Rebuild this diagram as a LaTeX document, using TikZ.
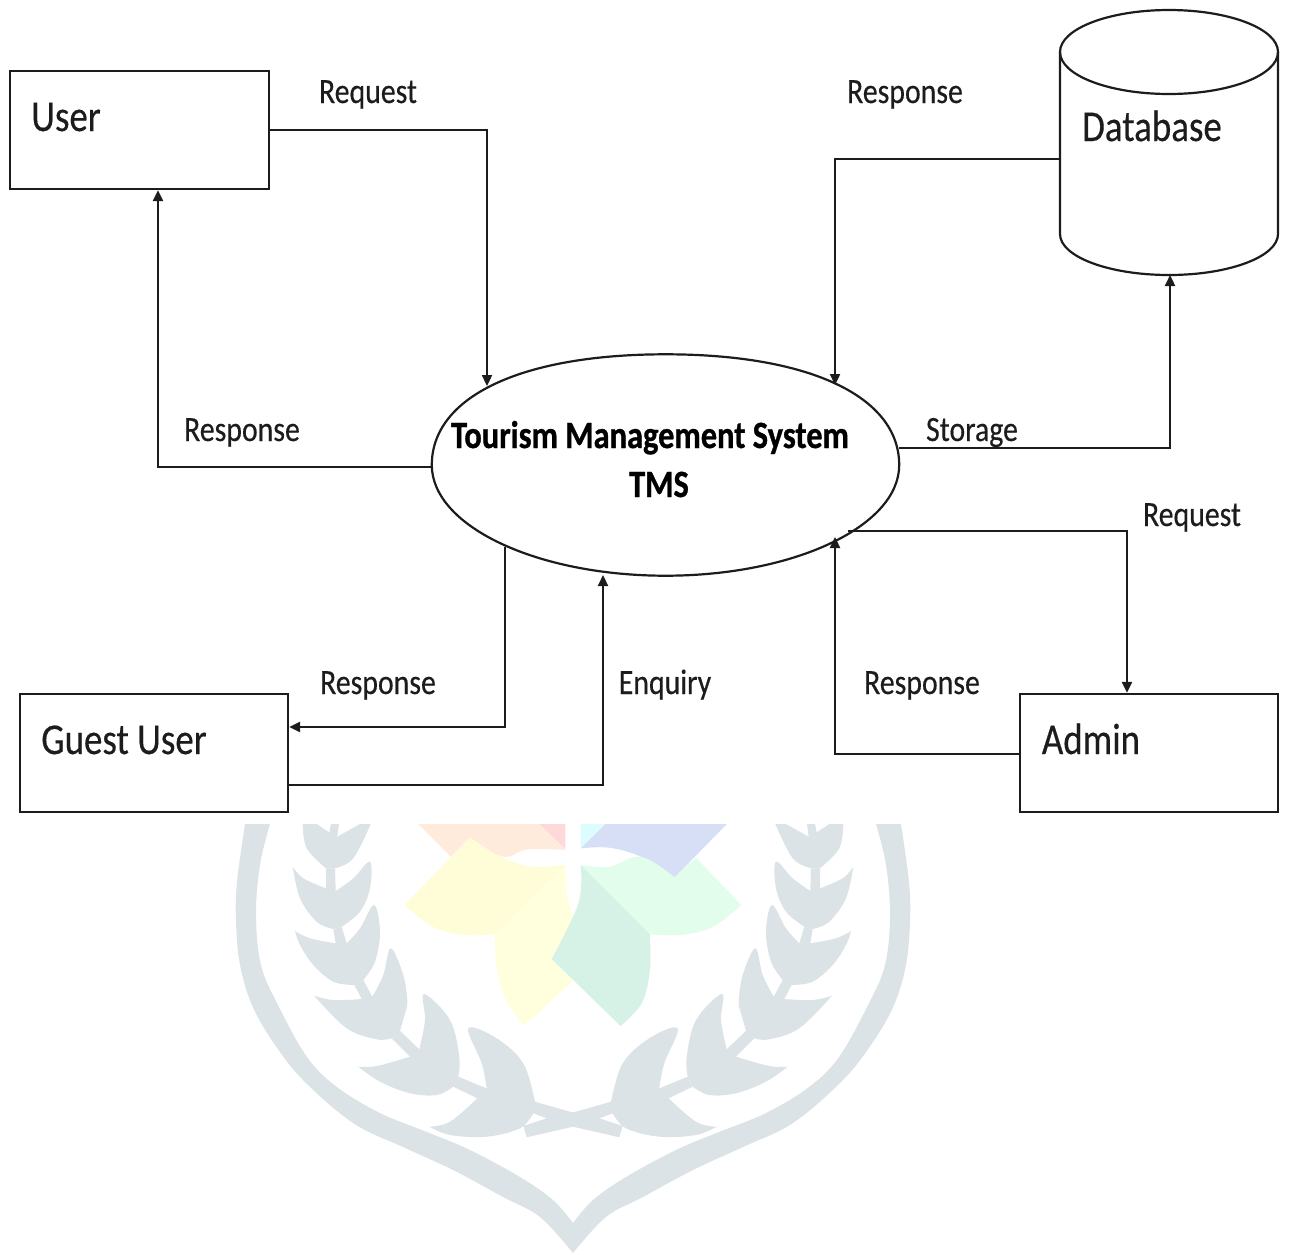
\documentclass[tikz,border=0pt]{standalone}
\usepackage{fontspec}
\setmainfont[FakeStretch=0.84,FakeBold=0.35,BoldFeatures={FakeStretch=0.84,FakeBold=0.8}]{Carlito}
\usetikzlibrary{shapes.geometric,arrows.meta,calc}
\definecolor{ink}{HTML}{1C1C1C}
\definecolor{wreath}{HTML}{DCE3E6}
\definecolor{fOrange}{HTML}{FFEBDB}
\definecolor{fPink}{HTML}{FFD9DA}
\definecolor{fCyan}{HTML}{DDFCFE}
\definecolor{fBlue}{HTML}{D7DFF6}
\definecolor{fYellowA}{HTML}{FFFCD8}
\definecolor{fYellowB}{HTML}{FFFFDE}
\definecolor{fGreenA}{HTML}{E3FDEC}
\definecolor{fGreenB}{HTML}{D6F1E6}
\newcommand{\wreathhalf}{%
 % band
 \fill[wreath] plot[smooth,tension=.6] coordinates {(245,824)(237,882)(236,922)(240,965)(252,1005)(273,1042)(303,1080)(353,1123)(403,1147)(453,1170)(503,1197)(540,1217)(573,1253)}
   -- plot[smooth,tension=.6] coordinates {(573,1223)(553,1200)(520,1177)(470,1150)(427,1132)(380,1113)(337,1087)(307,1057)(278,1005)(261,965)(256,915)(260,865)(270,824)} -- cycle;
 % tier 1
 \fill[wreath] plot[smooth,tension=.6] coordinates {(302.7,824)(306.7,848.3)(326,868.3)} -- (335,868.3) -- plot[smooth,tension=.6] coordinates {(335,868.3)(353.3,858.3)(370.7,824)} -- (360,824) -- (337.3,836.7) -- (339,824) -- (331,824) -- (329.3,832.3) -- (316.7,824) -- cycle;
 % tier 2
 \fill[wreath] plot[smooth,tension=.6] coordinates {(292.7,866.7)(303.3,878.3)(326,888.3)} -- (326,868.3) -- (335,868.3) -- (335.7,891) -- plot[smooth,tension=.6] coordinates {(335.7,891)(353.3,878.3)(370,861.7)(370,888.3)(360,911.7)(341.7,926.7)} -- (333.3,929) -- plot[smooth,tension=.6] coordinates {(333.3,929)(316.7,921.7)(300,898.3)(292.7,866.7)} -- cycle;
 % tier 3
 \fill[wreath] plot[smooth,tension=.6] coordinates {(295,931)(310,938.3)(335.7,943.3)} -- (333.3,929) -- (341.7,926.7) -- (346.7,943.3) -- plot[smooth,tension=.6] coordinates {(346.7,943.3)(360,928.3)(374,905)(380,931.7)(375,961.7)(363.3,980)} -- (354.3,985) -- plot[smooth,tension=.6] coordinates {(354.3,985)(333.3,981.7)(313.3,965)(300,945)(295,931)} -- cycle;
 % tier 4
 \fill[wreath] plot[smooth,tension=.6] coordinates {(314,995.7)(333.3,1000)(361.7,999)} -- (354.3,985) -- (363.3,980) -- (372.3,996.7) -- plot[smooth,tension=.6] coordinates {(372.3,996.7)(383.3,975)(390.7,948.3)(403.3,975)(407.3,1001.7)(405,1013.3)(400,1030.7)} -- (391.7,1038.3) -- plot[smooth,tension=.6] coordinates {(391.7,1038.3)(376.7,1039.3)(346.7,1028.3)(314,995.7)} -- cycle;
 % tier 5
 \fill[wreath] plot[smooth,tension=.6] coordinates {(358.3,1066.7)(376.7,1066)(410,1056.7)} -- (391.7,1038.3) -- (400,1030.7) -- (419.3,1049.3) -- plot[smooth,tension=.6] coordinates {(419.3,1049.3)(425,1020)(424,994)(450,1020)(459.3,1056.7)(458.3,1076.7)} -- (453.3,1086.7) -- plot[smooth,tension=.6] coordinates {(453.3,1086.7)(436.7,1095)(410,1093.3)(380,1081.7)(358.3,1066.7)} -- cycle;
 % tier 6 and crossing
 \fill[wreath] plot[smooth,tension=.6] coordinates {(429.3,1126.7)(450,1121.7)(477.3,1098.3)} -- (453.3,1086.7) -- (458.3,1076.7) -- (486.7,1088.3) -- plot[smooth,tension=.6] coordinates {(486.7,1088.3)(481.7,1063.3)(468.3,1028.3)(496.7,1038.3)(523.3,1063.3)(535,1101.7)} -- (573,1112.5) -- (573,1126.7) -- (526.7,1137.3) -- (523.3,1126) -- (546.7,1118.3) -- (533.3,1113.3) -- plot[smooth,tension=.6] coordinates {(533.3,1113.3)(520,1128.3)(486.7,1136.7)(450,1135)(429.3,1126.7)} -- cycle;
}
\begin{document}
\begin{tikzpicture}[x=1pt,y=-1pt,
  conn/.style={draw=ink,line width=2.3pt,-{Triangle[length=11pt,width=10pt]}},
  boxn/.style={draw=ink,line width=2.2pt,rectangle,inner sep=0pt},
  shapeline/.style={draw=ink,line width=2.2pt},
  small/.style={anchor=base,text=ink,font=\fontsize{35.5}{35.5}\selectfont,inner sep=0pt},
  big/.style={anchor=base,text=ink,font=\fontsize{44}{44}\selectfont,inner sep=0pt},
  heavy/.style={anchor=base,text=black,font=\fontsize{38.6}{38.6}\selectfont\bfseries,inner sep=0pt}]
\useasboundingbox (0,0) rectangle (1291,1254);
% watermark
\wreathhalf
\begin{scope}[shift={(1146,0)},x=-1pt]
 \wreathhalf
\end{scope}
\begin{scope}[shift={(220,810)},x=0.4525pt,y=-0.3333pt]
 \fill[fOrange] (438,42) -- (510,140) -- (552,82) -- plot[smooth,tension=.6] coordinates {(552,82)(625,140)(680,118)(762,120)} -- (705,42) -- cycle;
 \fill[fPink] (705,42) -- (763,118) -- (763,42) -- cycle;
 \fill[fCyan] (797,42) -- (797,115) -- (852,42) -- cycle;
 \fill[fBlue] (852,42) -- (797,115) -- plot[smooth,tension=.6] coordinates {(797,115)(860,113)(930,140)(1005,202)} -- (1120,42) -- cycle;
 \fill[fYellowA] (552,82) -- (408,285) -- plot[smooth,tension=.6] coordinates {(408,285)(470,350)(540,375)(607,373)} -- (763,165) -- plot[smooth,tension=.6] coordinates {(763,165)(690,170)(620,140)(552,82)} -- cycle;
 \fill[fYellowB] (763,165) -- (607,373) -- plot[smooth,tension=.6] coordinates {(607,373)(612,480)(632,570)(672,648)} -- (780,512) -- (733,447) -- plot[smooth,tension=.6] coordinates {(733,447)(778,340)(767,260)(763,165)} -- cycle;
 \fill[fGreenA] (797,165) -- (950,373) -- plot[smooth,tension=.6] coordinates {(950,373)(1020,375)(1090,350)(1152,285)} -- (1052,143) -- (1005,202) -- plot[smooth,tension=.6] coordinates {(1005,202)(930,140)(860,170)(797,165)} -- cycle;
 \fill[fGreenB] (797,165) -- plot[smooth,tension=.6] coordinates {(797,165)(792,280)(733,447)} -- (885,648) -- plot[smooth,tension=.6] coordinates {(885,648)(932,580)(950,480)(950,373)} -- cycle;
\end{scope}
% nodes
\node[boxn,minimum width=259pt,minimum height=118pt] (user) at (139.5,130) {};
\node[boxn,minimum width=268pt,minimum height=118pt] (guest) at (154,753) {};
\node[boxn,minimum width=258pt,minimum height=118pt] (admin) at (1149,753) {};
\node[ellipse,minimum width=467pt,minimum height=221pt,inner sep=0pt] (tms) at (665.5,465) {};
\draw[shapeline] (tms.west) .. controls +(0,-68) and +(-145,0) .. (tms.north)
  .. controls +(145,0) and +(0,-68) .. (tms.east)
  .. controls +(0,61) and +(129,0) .. (tms.south)
  .. controls +(-129,0) and +(0,61) .. (tms.west) -- cycle;
% database cylinder
\coordinate (dbW) at (1060,159);
\coordinate (dbS) at (1170,275);
\draw[shapeline] (1060,52) arc[x radius=109,y radius=42,start angle=180,end angle=-180];
\draw[shapeline] (1060,52) -- (1060,234) arc[x radius=109,y radius=41,start angle=180,end angle=0] -- (1278,52);
% labels
\node[big] (luser) at (66,131) {User};
\node[big] (lguest) at (124,754) {Guest User};
\node[big] (ladmin) at (1091,754) {Admin};
\node[big] (ldb) at (1152,141) {Database};
\node[heavy] (ltms) at (650,448) {Tourism Management System};
\node[heavy] (ltms2) at (659,497) {TMS};
\node[small] (l1) at (368,103) {Request};
\node[small] (l2) at (905,103) {Response};
\node[small] (l3) at (242,441) {Response};
\node[small] (l4) at (972,441) {Storage};
\node[small] (l5) at (1192,526) {Request};
\node[small] (l6) at (378,694) {Response};
\node[small] (l7) at (665,694) {Enquiry};
\node[small] (l8) at (922,694) {Response};
% connector ends on the ellipse
\coordinate (tmsA) at (487,386);
\coordinate (tmsB) at (835,385);
\coordinate (tmsC) at (432,467);
\coordinate (tmsE) at (899,448);
\coordinate (tmsF) at (848,531);
\coordinate (tmsG) at (835,537);
\coordinate (tmsH) at (603,575);
\coordinate (tmsJ) at (505,547);
% connectors
\draw[conn] (user.east) -| (tmsA);
\draw[conn] (tmsC) -| ($(user.south)+(18.5,0)$);
\draw[conn] (dbW) -| (tmsB);
\draw[conn] (tmsE) -| (dbS);
\draw[conn] (tmsF) -| ($(admin.north)+(-22,0)$);
\draw[conn] ($(admin.west)+(0,1)$) -| (tmsG);
\draw[conn] ($(guest.east)+(0,32)$) -| (tmsH);
\draw[conn] (tmsJ) |- ($(guest.east)+(0,-26)$);
\end{tikzpicture}
\end{document}
